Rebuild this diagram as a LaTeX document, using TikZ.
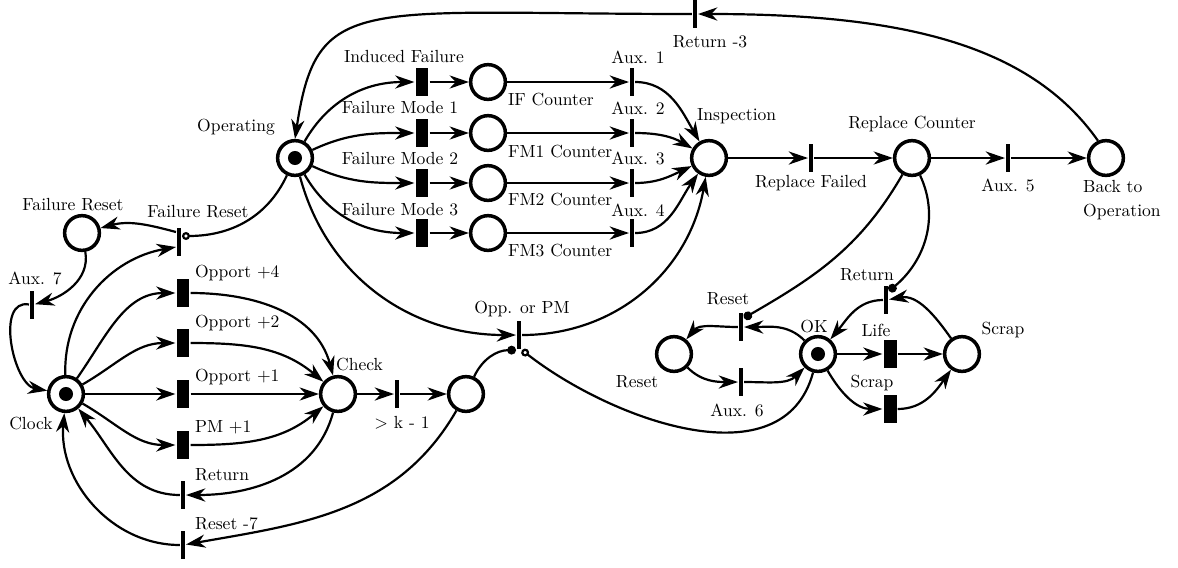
\documentclass[tikz,border=0pt]{standalone}
\usepackage{amsmath}
\usetikzlibrary{arrows.meta,calc}
\tikzset{
  place/.style={circle,draw,line width=2pt,minimum size=19.8pt,inner sep=0pt},
  marked/.style={place,path picture={\fill (path picture bounding box.center) circle (4pt);}},
  timed/.style={rectangle,fill=black,minimum width=7.4pt,minimum height=16pt,inner sep=0pt},
  instant/.style={rectangle,fill=black,minimum width=2.2pt,minimum height=16pt,inner sep=0pt},
  lbl/.style={inner sep=0pt},
  inhib/.style={-{Circle[open,length=4.5pt]}},
  readarc/.style={-{Circle[length=5pt]}}
}

\begin{document}
\begin{tikzpicture}[x=0.57pt,y=0.57pt,line width=1.25pt,>={Stealth[length=11pt,width=7.5pt,inset=3.5pt]}]
            \useasboundingbox (0,0) rectangle (1178,-567);
            \node[marked] (op) at (295,-158) {};
            \node[marked] (clock) at (66,-394) {};
            \node[marked] (ok) at (818,-354) {};
            \node[place] (pfr) at (82,-233) {};
            \node[place] (pif) at (488,-82) {};
            \node[place] (pfm1) at (488,-133) {};
            \node[place] (pfm2) at (488,-183) {};
            \node[place] (pfm3) at (488,-233) {};
            \node[place] (insp) at (709,-158) {};
            \node[place] (rcnt) at (912,-158) {};
            \node[place] (back) at (1106,-158) {};
            \node[place] (check) at (338,-394) {};
            \node[place] (pk) at (466,-394) {};
            \node[place] (preset) at (674,-354) {};
            \node[place] (pscrap) at (962,-354) {};
            \node[instant] (tret3) at (695,-14) {};
            \node[timed] (tif) at (422,-82) {};
            \node[timed] (tfm1) at (422,-133) {};
            \node[timed] (tfm2) at (422,-183) {};
            \node[timed] (tfm3) at (422,-233) {};
            \node[instant] (taux1) at (632,-82) {};
            \node[instant] (taux2) at (632,-133) {};
            \node[instant] (taux3) at (632,-183) {};
            \node[instant] (taux4) at (632,-233) {};
            \node[instant] (trf) at (811,-158) {};
            \node[instant] (taux5) at (1008,-158) {};
            \node[instant] (tfr) at (179,-242) {};
            \node[instant] (taux7) at (32,-305) {};
            \node[timed] (top4) at (183,-293) {};
            \node[timed] (top2) at (183,-343) {};
            \node[timed] (top1) at (183,-394) {};
            \node[timed] (tpm1) at (183,-445) {};
            \node[instant] (tret) at (183,-495) {};
            \node[instant] (trs7) at (183,-545) {};
            \node[instant] (tk) at (397,-394) {};
            \node[instant] (topm) at (519,-335) {};
            \node[instant] (trst) at (741,-327) {};
            \node[instant] (taux6) at (741,-382) {};
            \node[instant] (tretok) at (886,-300) {};
            \node[timed] (tlife) at (890,-354) {};
            \node[timed] (tscrap) at (890,-409) {};
            \node[lbl] (lop) at (236,-127) {Operating};
            \node[lbl] (lif) at (404,-57) {Induced Failure};
            \node[lbl] (lfm1) at (400,-108) {Failure Mode 1};
            \node[lbl] (lfm2) at (400,-159) {Failure Mode 2};
            \node[lbl] (lfm3) at (400,-210) {Failure Mode 3};
            \node[lbl,anchor=west] (lcif) at (507,-100) {IF Counter};
            \node[lbl,anchor=west] (lcfm1) at (507,-152) {FM1 Counter};
            \node[lbl,anchor=west] (lcfm2) at (507,-200) {FM2 Counter};
            \node[lbl,anchor=west] (lcfm3) at (507,-250) {FM3 Counter};
            \node[lbl] (laux1) at (638,-57) {Aux. 1};
            \node[lbl] (laux2) at (638,-108) {Aux. 2};
            \node[lbl] (laux3) at (638,-158) {Aux. 3};
            \node[lbl] (laux4) at (638,-210) {Aux. 4};
            \node[lbl,anchor=west] (linsp) at (696,-116) {Inspection};
            \node[lbl] (lrf) at (811,-183) {Replace Failed};
            \node[lbl] (lrcnt) at (912,-124) {Replace Counter};
            \node[lbl] (laux5) at (1008,-185) {Aux. 5};
            \node[lbl,anchor=west,align=left] (lback) at (1082,-200) {Back to\\[1.5pt]Operation};
            \node[lbl] (lret3) at (710,-42) {Return -3};
            \node[lbl] (lpfr) at (73,-205) {Failure Reset};
            \node[lbl] (ltfr) at (198,-212) {Failure Reset};
            \node[lbl] (laux7) at (35,-278) {Aux. 7};
            \node[lbl,anchor=west] (lop4) at (194,-273) {Opport +4};
            \node[lbl,anchor=west] (lop2) at (194,-323) {Opport +2};
            \node[lbl,anchor=west] (lop1) at (194,-377) {Opport +1};
            \node[lbl,anchor=west] (lpm1) at (194,-427) {PM +1};
            \node[lbl,anchor=west] (lret) at (194,-475) {Return};
            \node[lbl,anchor=west] (lrs7) at (194,-524) {Reset -7};
            \node[lbl] (lclock) at (31,-423) {Clock};
            \node[lbl,anchor=west] (lcheck) at (335,-364) {Check};
            \node[lbl] (lk) at (402,-423) {\textgreater\ k - 1};
            \node[lbl] (lopm) at (522,-309) {Opp. or PM};
            \node[lbl] (ltrst) at (728,-299) {Reset};
            \node[lbl] (laux6) at (737,-410) {Aux. 6};
            \node[lbl] (lpreset) at (637,-382) {Reset};
            \node[lbl] (lok) at (814,-326) {OK};
            \node[lbl] (ltretok) at (867,-275) {Return};
            \node[lbl] (llife) at (876,-330) {Life};
            \node[lbl] (ltscrap) at (872,-383) {Scrap};
            \node[lbl] (lpscrap) at (1003,-330) {Scrap};
            \draw[->] (op) to[out=60,in=180] (tif);
            \draw[->] (op) to[out=25,in=180] (tfm1);
            \draw[->] (op) to[out=-25,in=180] (tfm2);
            \draw[->] (op) to[out=-60,in=180] (tfm3);
            \draw[->] (tif) -- (pif);
            \draw[->] (tfm1) -- (pfm1);
            \draw[->] (tfm2) -- (pfm2);
            \draw[->] (tfm3) -- (pfm3);
            \draw[->] (pif) -- (taux1);
            \draw[->] (pfm1) -- (taux2);
            \draw[->] (pfm2) -- (taux3);
            \draw[->] (pfm3) -- (taux4);
            \draw[->] (taux1) to[out=0,in=120] (insp);
            \draw[->] (taux2) to[out=0,in=150] (insp);
            \draw[->] (taux3) to[out=0,in=-155] (insp);
            \draw[->] (taux4) to[out=0,in=-125] (insp);
            \draw[->] (insp) -- (trf);
            \draw[->] (trf) -- (rcnt);
            \draw[->] (rcnt) -- (taux5);
            \draw[->] (taux5) -- (back);
            \draw[->] (back.115) .. controls +(-69,98) and +(200,0) .. (tret3.east);
            \draw[->] (tret3.west) .. controls +(-333,0) and +(22,147) .. (op.north);
            \draw[->] (op) to[out=-75,in=180] (topm);
            \draw[inhib] (op) to[out=-115,in=0] ($(tfr.east)+(0,6)$);
            \draw[->] (topm) to[out=0,in=-100] (insp);
            \draw[readarc] (pk) to[out=65,in=180] (topm.south west);
            \draw[inhib] (ok) to[out=-105,in=-38] (topm.south east);
            \draw[readarc] (rcnt) to[out=-120,in=30] ($(trst.east)+(0,9)$);
            \draw[readarc] (rcnt) to[out=-65,in=40] ($(tretok.east)+(0,9)$);
            \draw[->] (ok) to[out=135,in=0] (trst);
            \draw[->] (trst) to[out=180,in=50] (preset);
            \draw[->] (preset) to[out=-45,in=180] (taux6);
            \draw[->] (taux6) to[out=0,in=-135] (ok);
            \draw[->] (ok) -- (tlife);
            \draw[->] (tlife) -- (pscrap);
            \draw[->] (ok) to[out=-60,in=180] (tscrap);
            \draw[->] (tscrap) to[out=0,in=-125] (pscrap);
            \draw[->] (pscrap) to[out=125,in=10] (tretok);
            \draw[->] (tretok) to[out=180,in=50] (ok);
            \draw[->] (clock) to[out=92,in=190] ($(tfr.west)+(0,-5)$);
            \draw[->] ($(tfr.west)+(0,10)$) to[out=165,in=15] (pfr);
            \draw[->] (pfr) to[out=-80,in=15] (taux7);
            \draw[->] (taux7) to[out=170,in=170] (clock);
            \draw[->] (clock) to[out=55,in=180] (top4);
            \draw[->] (clock) to[out=30,in=180] (top2);
            \draw[->] (clock) -- (top1);
            \draw[->] (clock) to[out=-30,in=180] (tpm1);
            \draw[->] (top4) to[out=0,in=105] (check);
            \draw[->] (top2) to[out=0,in=140] (check);
            \draw[->] (top1) -- (check);
            \draw[->] (tpm1) to[out=0,in=-140] (check);
            \draw[->] (check) to[out=-105,in=0] (tret);
            \draw[->] (tret) to[out=180,in=-50] (clock);
            \draw[->] (check) -- (tk);
            \draw[->] (tk) -- (pk);
            \draw[->] (pk) to[out=-120,in=10] (trs7);
            \draw[->] (trs7) to[out=180,in=-95] (clock);
        \end{tikzpicture}
\end{document}
